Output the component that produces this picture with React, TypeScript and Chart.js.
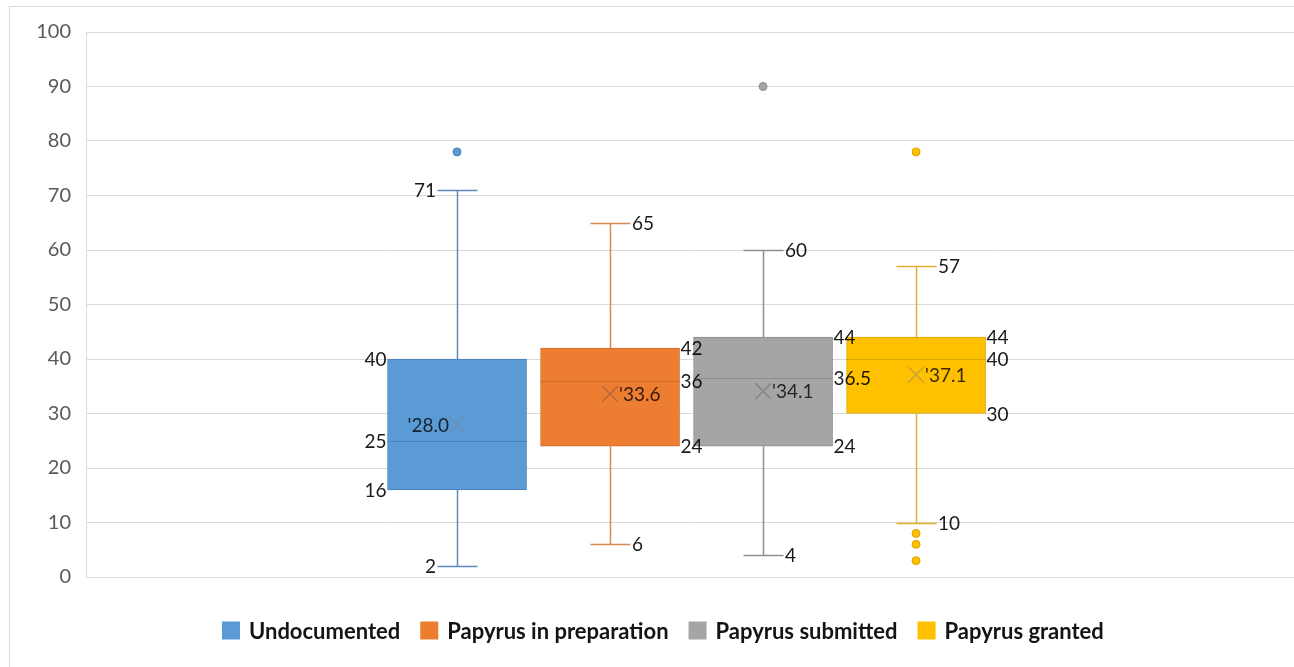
import React, { useEffect, useRef } from 'react';
import { Chart, registerables } from 'chart.js';

Chart.register(...registerables);

// ---- data ----
const categories = ['Undocumented', 'Papyrus in preparation', 'Papyrus submitted', 'Papyrus granted'];
const positions = [1, 2, 3, 4];
const mins = [2, 6, 4, 10];
const q1s = [16, 24, 24, 30];
const medians = [25, 36, 36.5, 40];
const q3s = [40, 42, 44, 44];
const maxs = [71, 65, 60, 57];
const means = [28.0, 33.6, 34.1, 37.1];
const outliers = [[78], [], [90], [78, 8, 6, 3]];
const yTicks = { min: 0, max: 100, step: 10 };

// ---- styles ----
const fills = ['#5B9BD5', '#ED7D31', '#A5A5A5', '#FFC000'];
const lines = ['#4A7EB8', '#D06E2E', '#8C8C8C', '#D9A500'];
const whiskerColors = ['#5E88BE', '#D98A55', '#8F8F8F', '#E0B030'];
const meanColors = ['#6E8FB8', '#B8683A', '#858585', '#C9A23A'];
const labelSides = ['left', 'right', 'right', 'right'];
const FONT = 'Lato, "Open Sans", sans-serif';
const W = 1294;
const H = 667;

export default function App() {
  const ref = useRef<HTMLCanvasElement>(null);

  useEffect(() => {
    const canvas = ref.current!;
    const CAP = 20;

    const plugin = {
      id: 'boxExtras',
      beforeDraw(chart: any) {
        const ctx = chart.ctx;
        ctx.save();
        ctx.fillStyle = '#fff';
        ctx.fillRect(0, 0, W, H);
        ctx.strokeStyle = '#D9D9D9';
        ctx.lineWidth = 1;
        ctx.strokeRect(9.5, 6.5, W + 20, H + 20);
        ctx.restore();
      },
      beforeDatasetsDraw(chart: any) {
        const ctx = chart.ctx;
        const ys = chart.scales.y;
        ctx.save();
        ctx.lineWidth = 1.5;
        categories.forEach((_, i) => {
          const bar = chart.getDatasetMeta(i).data[0];
          const x = Math.round(bar.x) + 0.5;
          ctx.strokeStyle = whiskerColors[i];
          const yQ3 = ys.getPixelForValue(q3s[i]);
          const yMax = Math.round(ys.getPixelForValue(maxs[i])) + 0.5;
          const yQ1 = ys.getPixelForValue(q1s[i]);
          const yMin = Math.round(ys.getPixelForValue(mins[i])) + 0.5;
          ctx.beginPath();
          ctx.moveTo(x, yQ3);
          ctx.lineTo(x, yMax);
          ctx.moveTo(x - CAP, yMax);
          ctx.lineTo(x + CAP, yMax);
          ctx.moveTo(x, yQ1);
          ctx.lineTo(x, yMin);
          ctx.moveTo(x - CAP, yMin);
          ctx.lineTo(x + CAP, yMin);
          ctx.stroke();
        });
        ctx.restore();
      },
      afterDatasetsDraw(chart: any) {
        const ctx = chart.ctx;
        const ys = chart.scales.y;
        ctx.save();
        // medians
        categories.forEach((_, i) => {
          const bar = chart.getDatasetMeta(i).data[0];
          const y = Math.round(ys.getPixelForValue(medians[i])) + 0.5;
          ctx.strokeStyle = lines[i];
          ctx.lineWidth = 1;
          ctx.beginPath();
          ctx.moveTo(bar.x - bar.width / 2, y);
          ctx.lineTo(bar.x + bar.width / 2, y);
          ctx.stroke();
        });
        // labels
        ctx.font = `19px ${FONT}`;
        ctx.textBaseline = 'middle';
        categories.forEach((_, i) => {
          const bar = chart.getDatasetMeta(i).data[0];
          const left = labelSides[i] === 'left';
          ctx.textAlign = left ? 'right' : 'left';
          const boxEdge = left ? bar.x - bar.width / 2 - 1 : bar.x + bar.width / 2 + 1;
          const capEdge = left ? bar.x - CAP - 1 : bar.x + CAP + 2;
          const meanEdge = left ? bar.x - 8 : bar.x + 9;
          ctx.fillStyle = 'rgba(0,0,0,0.9)';
          const put = (v: number, xx: number, txt?: string) => {
            ctx.fillText(txt ?? String(v), xx, ys.getPixelForValue(v) + 1);
          };
          put(maxs[i], capEdge);
          put(q3s[i], boxEdge);
          put(medians[i], boxEdge);
          put(q1s[i], boxEdge);
          put(mins[i], capEdge);
          ctx.fillStyle = 'rgba(0,0,0,0.78)';
          put(means[i], meanEdge, "'" + means[i].toFixed(1));
        });
        ctx.restore();
      },
      afterDraw(chart: any) {
        const ctx = chart.ctx;
        ctx.save();
        ctx.font = `bold 22px ${FONT}`;
        ctx.textBaseline = 'middle';
        ctx.textAlign = 'left';
        const SQ = 18;
        const GAP = 9;
        const ITEMGAP = 20;
        const widths = categories.map((c) => ctx.measureText(c).width);
        const total = widths.reduce((a, w) => a + SQ + GAP + w, 0) + ITEMGAP * (categories.length - 1);
        let x = Math.round(663 - total / 2);
        const cy = 631;
        categories.forEach((c, i) => {
          ctx.fillStyle = fills[i];
          ctx.fillRect(x, cy - SQ / 2 - 0.5, SQ, SQ);
          x += SQ + GAP;
          ctx.fillStyle = '#141414';
          ctx.fillText(c, x, cy + 1);
          x += widths[i] + ITEMGAP;
        });
        ctx.restore();
      },
    };

    const barSets = categories.map((c, i) => ({
      type: 'bar' as const,
      label: c,
      data: [{ x: positions[i], y: [q1s[i], q3s[i]] }],
      backgroundColor: fills[i],
      borderColor: lines[i],
      borderWidth: 1,
      borderSkipped: false,
      grouped: false,
      barThickness: 139,
      order: 3,
    }));
    const meanSets = categories.map((c, i) => ({
      type: 'scatter' as const,
      label: c + ' mean',
      data: [{ x: positions[i], y: means[i] }],
      pointStyle: 'crossRot',
      pointRadius: 11,
      borderColor: meanColors[i],
      backgroundColor: meanColors[i],
      borderWidth: 1.5,
      order: 2,
    }));
    const outlierSets = categories.map((c, i) => ({
      type: 'scatter' as const,
      label: c + ' outliers',
      data: outliers[i].map((v) => ({ x: positions[i], y: v })),
      pointStyle: 'circle',
      pointRadius: 4,
      backgroundColor: fills[i],
      borderColor: lines[i],
      borderWidth: 1,
      order: 1,
    }));

    const chart = new Chart(canvas, {
      type: 'bar',
      data: { datasets: [...barSets, ...meanSets, ...outlierSets] as any },
      options: {
        animation: false,
        responsive: false,
        devicePixelRatio: 1,
        layout: { autoPadding: false, padding: { top: 32, right: 0, bottom: 90, left: 0 } },
        plugins: { legend: { display: false }, tooltip: { enabled: false } },
        scales: {
          x: {
            type: 'linear',
            display: false,
            offset: false,
            min: -1.425,
            max: 6.47,
          },
          y: {
            min: yTicks.min,
            max: yTicks.max,
            afterFit: (scale: any) => {
              scale.width = 86;
            },
            ticks: {
              stepSize: yTicks.step,
              padding: 15,
              color: '#595959',
              font: { family: FONT, size: 20 },
            },
            grid: { color: '#D9D9D9', lineWidth: 1, drawTicks: false },
            border: { display: true, color: '#D9D9D9' },
          },
        },
      } as any,
      plugins: [plugin],
    });
    return () => chart.destroy();
  }, []);

  return (
    <div style={{ position: 'fixed', left: 0, top: 0, width: W, height: H, background: '#fff', overflow: 'hidden' }}>
      <canvas ref={ref} width={W} height={H} style={{ width: W, height: H, display: 'block' }} />
    </div>
  );
}
